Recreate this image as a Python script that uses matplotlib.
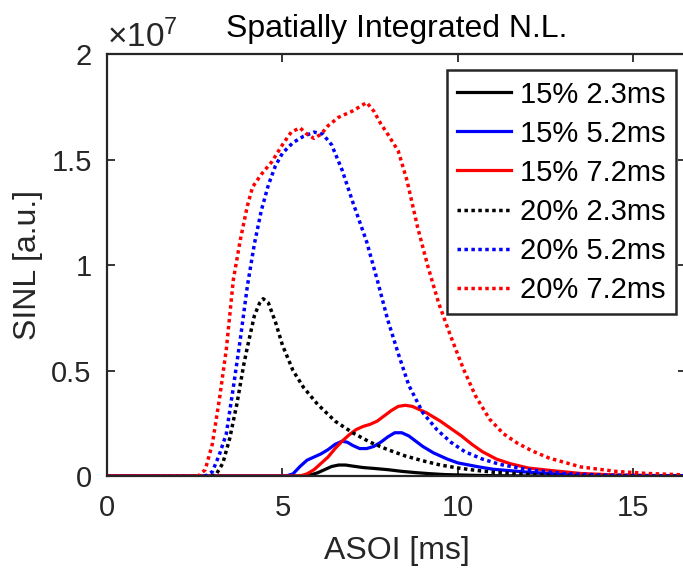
import matplotlib.pyplot as plt
import matplotlib as mpl
from matplotlib.ticker import FuncFormatter

mpl.rcParams['font.family'] = ['Liberation Sans', 'DejaVu Sans']
mpl.rcParams['mathtext.fontset'] = 'custom'
mpl.rcParams['mathtext.rm'] = 'Liberation Sans'
mpl.rcParams['mathtext.it'] = 'Liberation Sans'

# ASOI [ms] vs SINL (in units of 1e6)
x_15_23 = [0, 5.6, 5.8, 6.0, 6.2, 6.4, 6.6, 6.8, 7.0, 7.3, 7.6, 8.0, 8.4, 8.8, 9.2, 9.6, 10.0, 10.5, 11, 12, 16.5]
y_15_23 = [0, 0, 0.05, 0.15, 0.3, 0.45, 0.52, 0.52, 0.47, 0.4, 0.36, 0.3, 0.22, 0.16, 0.11, 0.07, 0.05, 0.03, 0.015, 0, 0]

x_15_52 = [0, 5.1, 5.3, 5.5, 5.7, 5.9, 6.1, 6.3, 6.5, 6.7, 6.85, 7.0, 7.2, 7.4, 7.6, 7.8, 8.0, 8.2, 8.4,
           8.6, 8.8, 9.0, 9.3, 9.7, 10.0, 10.6, 11, 12, 13, 14, 16.5]
y_15_52 = [0, 0, 0.1, 0.45, 0.75, 0.9, 1.05, 1.25, 1.5, 1.65, 1.6, 1.45, 1.3, 1.3, 1.4, 1.6, 1.85, 2.05, 2.05,
           1.9, 1.65, 1.4, 1.1, 0.8, 0.62, 0.43, 0.32, 0.18, 0.08, 0.03, 0]

x_15_72 = [0, 5.5, 5.7, 5.9, 6.1, 6.3, 6.5, 6.7, 6.9, 7.1, 7.3, 7.5, 7.7, 7.9, 8.1, 8.3, 8.5, 8.7, 8.9,
           9.1, 9.3, 9.5, 9.8, 10.1, 10.4, 10.7, 11.1, 11.5, 12, 12.6, 13.5, 14.5, 16.5]
y_15_72 = [0, 0, 0.1, 0.3, 0.6, 0.9, 1.3, 1.65, 1.95, 2.2, 2.35, 2.45, 2.6, 2.85, 3.1, 3.3, 3.35, 3.3, 3.15,
           3.0, 2.8, 2.6, 2.25, 1.9, 1.5, 1.15, 0.8, 0.58, 0.38, 0.27, 0.12, 0.05, 0]

x_20_23 = [0, 2.95, 3.1, 3.3, 3.5, 3.7, 3.9, 4.0, 4.2, 4.35, 4.45, 4.6, 4.8, 5.0, 5.3, 5.6, 6.0, 6.5, 7.0, 7.5,
           8.0, 8.5, 9.0, 9.5, 10.0, 10.5, 11, 12, 13, 14, 16.5]
y_20_23 = [0, 0, 0.05, 0.6, 1.8, 3.4, 5.3, 6.1, 7.6, 8.2, 8.4, 8.2, 7.3, 6.2, 5.0, 4.2, 3.4, 2.6, 2.05, 1.6,
           1.25, 0.95, 0.72, 0.52, 0.38, 0.27, 0.18, 0.08, 0.03, 0.01, 0]

x_20_52 = [0, 2.8, 3.0, 3.2, 3.4, 3.6, 3.8, 4.0, 4.2, 4.4, 4.6, 4.8, 5.0, 5.3, 5.6, 5.9, 6.15, 6.4, 6.7,
           7.0, 7.4, 7.7, 8.0, 8.3, 8.6, 9.0, 9.4, 9.8, 10.2, 10.7, 11.2, 12, 13, 14, 15, 16.5]
y_20_52 = [0, 0, 0.2, 1.0, 2.0, 4.2, 6.5, 9.0, 11.0, 12.6, 13.8, 14.7, 15.3, 15.8, 16.1, 16.3, 16.2, 15.7, 14.5,
           13.0, 11.1, 9.3, 7.4, 5.8, 4.3, 3.0, 2.2, 1.6, 1.15, 0.8, 0.55, 0.3, 0.12, 0.05, 0.02, 0]

x_20_72 = [0, 2.6, 2.8, 3.0, 3.2, 3.4, 3.6, 3.8, 4.0, 4.15, 4.4, 4.7, 5.0, 5.25, 5.5, 5.7, 5.9, 6.1, 6.3,
           6.6, 7.0, 7.4, 7.6, 7.8, 8.0, 8.3, 8.55, 8.85, 9.15, 9.45, 9.8, 10.15, 10.5, 10.9, 11.3, 11.7,
           12.1, 12.6, 13.5, 14.5, 15.4, 16.5]
y_20_72 = [0, 0, 0.3, 1.5, 3.6, 6.0, 9.3, 11.2, 12.8, 13.7, 14.3, 14.9, 15.7, 16.3, 16.5, 16.2, 16.0, 16.2, 16.6,
           17.0, 17.3, 17.7, 17.3, 16.7, 16.2, 15.4, 14.0, 11.8, 9.9, 8.2, 6.6, 5.1, 3.8, 2.7, 2.0, 1.55,
           1.2, 0.85, 0.43, 0.22, 0.12, 0.05]

labels = ['15% 2.3ms', '15% 5.2ms', '15% 7.2ms', '20% 2.3ms', '20% 5.2ms', '20% 7.2ms']

series = [(x_15_23, y_15_23, 'k', '-'), (x_15_52, y_15_52, 'b', '-'), (x_15_72, y_15_72, 'r', '-'),
          (x_20_23, y_20_23, 'k', ':'), (x_20_52, y_20_52, 'b', ':'), (x_20_72, y_20_72, 'r', ':')]

fig = plt.figure(figsize=(6.83, 5.70), dpi=100)
ax = fig.add_axes([107/683, 94/570, 579/683, 422/570])

for (xs, ys, c, ls), lab in zip(series, labels):
    if ls == ':':
        ax.plot(xs, [v*1e6 for v in ys], color=c, linewidth=2.5, dashes=(1, 1), dash_capstyle='butt', label=lab)
    else:
        ax.plot(xs, [v*1e6 for v in ys], color=c, linewidth=2.3, linestyle='-', label=lab)

ax.set_xlim(0, 16.5)
ax.set_ylim(0, 2e7)
ax.set_xticks([0, 5, 10, 15])
ax.set_yticks([0, 0.5e7, 1e7, 1.5e7, 2e7])
ax.yaxis.set_major_formatter(FuncFormatter(lambda v, p: f'{v/1e7:g}'))

gray = '#262626'
for s in ax.spines.values():
    s.set_color(gray)
    s.set_linewidth(1.6)
ax.tick_params(direction='in', length=6, width=1.3, colors=gray, labelsize=21,
               top=True, right=True)
ax.tick_params(axis='x', pad=13)
ax.tick_params(axis='y', pad=11)

ax.set_xlabel('ASOI [ms]', fontsize=23, color=gray, labelpad=10)
ax.set_ylabel('SINL [a.u.]', fontsize=23, color=gray, labelpad=6)
ax.set_title('Spatially Integrated N.L.', fontsize=23, color='k', pad=12)
ax.text(0.0, 1.0, r'$\times10^{7}$', transform=ax.transAxes, fontsize=24, color=gray,
        ha='left', va='bottom')

leg = ax.legend(loc='upper right', bbox_to_anchor=(0.983, 0.962), borderaxespad=0,
                fontsize=21, handlelength=1.85, handletextpad=0.3, labelspacing=0.38,
                borderpad=0.36, fancybox=False, framealpha=1, edgecolor=gray)
leg.get_frame().set_linewidth(1.8)

fig.savefig('out.png', dpi=100)
